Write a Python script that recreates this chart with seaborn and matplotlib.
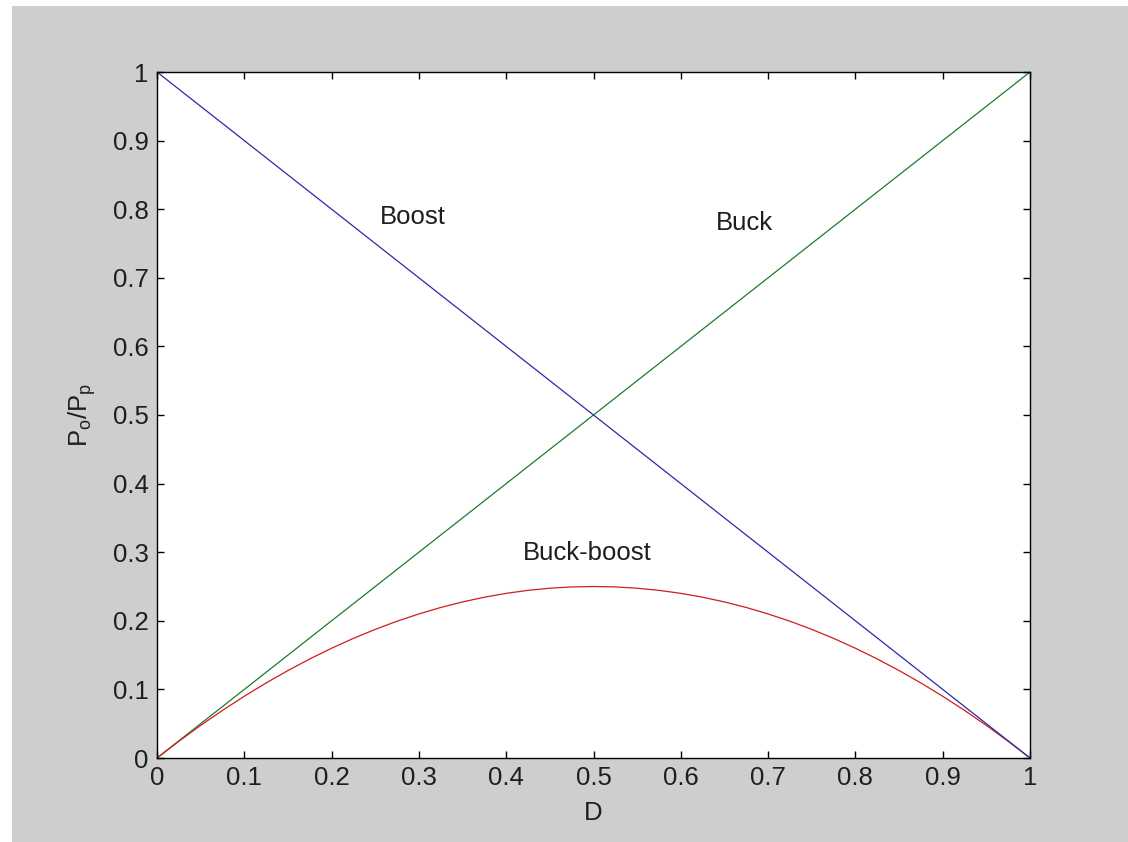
import matplotlib
matplotlib.use("Agg")
import matplotlib.pyplot as plt
import matplotlib.patches as mpatches
import seaborn as sns
import pandas as pd

# Duty cycle and normalized output power for the three converters
duty = [0.0, 0.025, 0.05, 0.075, 0.10, 0.125, 0.15, 0.175, 0.20, 0.225,
        0.25, 0.275, 0.30, 0.325, 0.35, 0.375, 0.40, 0.425, 0.45, 0.475,
        0.50, 0.525, 0.55, 0.575, 0.60, 0.625, 0.65, 0.675, 0.70, 0.725,
        0.75, 0.775, 0.80, 0.825, 0.85, 0.875, 0.90, 0.925, 0.95, 0.975, 1.0]
buck_duty = [0.0, 1.0]
buck_power = [0.0, 1.0]
boost_duty = [0.0, 1.0]
boost_power = [1.0, 0.0]
buckboost_power = [0.0, 0.0244, 0.0475, 0.0694, 0.09, 0.1094, 0.1275, 0.1444, 0.16, 0.1744,
                   0.1875, 0.1994, 0.21, 0.2194, 0.2275, 0.2344, 0.24, 0.2444, 0.2475, 0.2494,
                   0.25, 0.2494, 0.2475, 0.2444, 0.24, 0.2344, 0.2275, 0.2194, 0.21, 0.1994,
                   0.1875, 0.1744, 0.16, 0.1444, 0.1275, 0.1094, 0.09, 0.0694, 0.0475, 0.0244, 0.0]

x_ticks = [0, 0.1, 0.2, 0.3, 0.4, 0.5, 0.6, 0.7, 0.8, 0.9, 1]
x_tick_labels = ["0", "0.1", "0.2", "0.3", "0.4", "0.5", "0.6", "0.7", "0.8", "0.9", "1"]
y_ticks = [0, 0.1, 0.2, 0.3, 0.4, 0.5, 0.6, 0.7, 0.8, 0.9, 1]
y_tick_labels = ["0", "0.1", "0.2", "0.3", "0.4", "0.5", "0.6", "0.7", "0.8", "0.9", "1"]

buck_df = pd.DataFrame({"D": buck_duty, "P": buck_power})
boost_df = pd.DataFrame({"D": boost_duty, "P": boost_power})
bb_df = pd.DataFrame({"D": duty, "P": buckboost_power})

sns.set_theme(style="ticks")
plt.rcParams["font.family"] = ["Liberation Sans", "DejaVu Sans"]
plt.rcParams["mathtext.default"] = "regular"

TXT = "#1e1e1e"
FS = 18.5

fig = plt.figure(figsize=(11.28, 8.42), dpi=100, facecolor="white")
# grey window background
fig.patches.append(mpatches.Rectangle((12 / 1128, 0), 1, 1 - 6 / 842,
                                      transform=fig.transFigure,
                                      facecolor="#cecece", edgecolor="none",
                                      zorder=-10))
ax = fig.add_axes([157 / 1128, 1 - 758 / 842, 873 / 1128, 686 / 842])
ax.set_facecolor("white")

sns.lineplot(data=buck_df, x="D", y="P", ax=ax, color="#1c7c2c", linewidth=0.9)
sns.lineplot(data=bb_df, x="D", y="P", ax=ax, color="#d01c1c", linewidth=0.9)
sns.lineplot(data=boost_df, x="D", y="P", ax=ax, color="#2a2aa8", linewidth=0.9)

ax.set_xlim(0, 1)
ax.set_ylim(0, 1)
ax.set_xticks(x_ticks)
ax.set_xticklabels(x_tick_labels)
ax.set_yticks(y_ticks)
ax.set_yticklabels(y_tick_labels)

for side in ["top", "right", "left", "bottom"]:
    ax.spines[side].set_visible(True)
    ax.spines[side].set_color("black")
    ax.spines[side].set_linewidth(1.0)

ax.tick_params(axis="both", which="both", direction="in", length=5, width=1,
               color="black", labelsize=FS, labelcolor=TXT, pad=6,
               top=True, right=True)

ax.set_xlabel("D", fontsize=FS, color=TXT, labelpad=8)
ax.set_ylabel("P$_o$/P$_p$", fontsize=FS, color=TXT, labelpad=11)

ax.text(0.293, 0.789, "Boost", ha="center", va="center", fontsize=FS, color=TXT)
ax.text(0.673, 0.780, "Buck", ha="center", va="center", fontsize=FS, color=TXT)
ax.text(0.4925, 0.299, "Buck-boost", ha="center", va="center", fontsize=FS, color=TXT)

fig.savefig("out.png", dpi=100, facecolor=fig.get_facecolor())
